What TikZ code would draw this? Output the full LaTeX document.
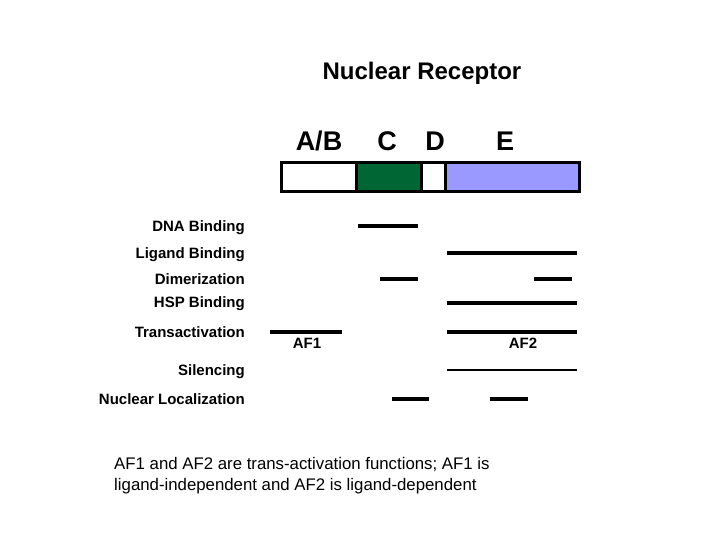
\documentclass[tikz,border=0pt]{standalone}
\usepackage{fontspec}
\setmainfont{Liberation Sans}

\def \barthick {3.2pt}
\def \labelx {245}
\definecolor{dnagreen}{RGB}{0,102,51}
\definecolor{lbdblue}{RGB}{153,153,255}
\tikzstyle{domainbox}=[draw, line width=3pt]
\tikzstyle{feature}=[line width=\barthick]
\tikzstyle{rowlabel}=[anchor=base east, inner sep=0pt, font=\bfseries\fontsize{15}{18}\selectfont]
\tikzstyle{letter}=[anchor=base, inner sep=0pt, font=\bfseries\fontsize{27}{32}\selectfont]
\tikzstyle{afname}=[anchor=base, inner sep=0pt, font=\bfseries\fontsize{15}{18}\selectfont]
\tikzstyle{note}=[anchor=base west, inner sep=0pt, font=\fontsize{16.8}{20}\selectfont]

\begin{document}
\begin{tikzpicture}[x=1pt, y=-1pt]
\useasboundingbox (0,0) rectangle (720,540);

\node[anchor=base, inner sep=0pt, font=\bfseries\fontsize{24}{28}\selectfont] (title) at (422,80) {Nuclear Receptor};

% domains of the receptor
\draw[domainbox, fill=white] (281,163) rectangle (356,192);
\draw[domainbox, fill=dnagreen] (356,163) rectangle (421,192);
\draw[domainbox, fill=white] (421,163) rectangle (445,192);
\draw[domainbox, fill=lbdblue] (445,163) rectangle (579,192);

\node[letter] (AB) at (319,151) {A/B};
\node[letter] (C) at (387,151) {C};
\node[letter] (D) at (435,151) {D};
\node[letter] (E) at (505,151) {E};

% functions
\foreach \name/\y in {DNA Binding/226, Ligand Binding/253, Dimerization/279, HSP Binding/302, Transactivation/332, Silencing/370, Nuclear Localization/399}
    \node[rowlabel] (L\y) at (\labelx, \y + 5.5) {\name};

\foreach \y/\a/\b in {226/358/418, 253/447/577, 279/380/418, 279/534/572, 303/447/577, 332/270/342, 332/447/577, 399/392/429, 399/490/528}
    \draw[feature] (\a,\y) -- (\b,\y);
\draw[line width=2.7pt] (447,370) -- (577,370);

\node[afname] (AF1) at (307,348) {AF1};
\node[afname] (AF2) at (523,348) {AF2};

\node[note] (note1) at (114,469) {AF1 and AF2 are trans-activation functions; AF1 is};
\node[note] (note2) at (114,490) {ligand-independent and AF2 is ligand-dependent};

\end{tikzpicture}
\end{document}
